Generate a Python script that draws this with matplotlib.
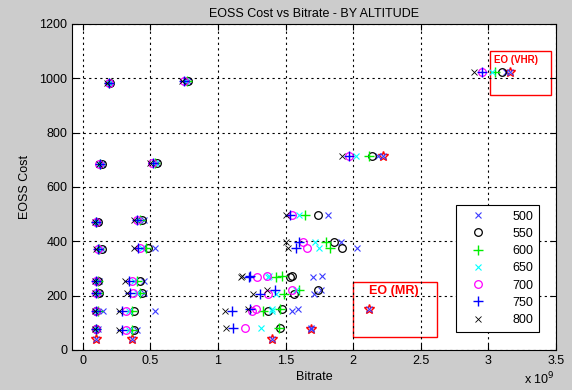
import matplotlib.pyplot as plt
from matplotlib.patches import Rectangle

plt.rcParams['font.family'] = ['Liberation Sans', 'DejaVu Sans']

altitudes = ['500', '550', '600', '650', '700', '750', '800']

# стоимость каждой конфигурации
cost = [983, 990, 685, 690, 472, 477, 372, 375, 255, 255, 210, 210, 145, 145, 78, 75,
        495, 398, 376, 268, 272, 205, 222, 142, 150, 80, 715, 1022]

# битрейт (x 10^9) для каждой высоты, по порядку конфигураций
bitrate = {
    '500': [0.20, 0.78, 0.14, 0.55, 0.11, 0.45, 0.14, 0.53, 0.12, 0.45, 0.12, 0.45, 0.15, 0.53, 0.11, 0.40,
            1.81, 1.91, 2.03, 1.70, 1.77, 1.71, 1.76, 1.55, 1.59, 1.69, 2.18, 3.13],
    '550': [0.20, 0.78, 0.14, 0.55, 0.11, 0.44, 0.14, 0.48, 0.11, 0.42, 0.12, 0.44, 0.10, 0.38, 0.10, 0.38,
            1.74, 1.86, 1.92, 1.53, 1.55, 1.56, 1.74, 1.37, 1.47, 1.46, 2.14, 3.10],
    '600': [0.19, 0.77, 0.13, 0.53, 0.10, 0.42, 0.12, 0.47, 0.11, 0.40, 0.11, 0.42, 0.11, 0.36, 0.10, 0.36,
            1.64, 1.80, 1.83, 1.43, 1.47, 1.49, 1.60, 1.33, 1.46, 1.45, 2.12, 3.05],
    '650': [0.19, 0.76, 0.13, 0.53, 0.10, 0.41, 0.12, 0.44, 0.10, 0.38, 0.10, 0.40, 0.10, 0.34, 0.10, 0.34,
            1.60, 1.72, 1.75, 1.37, 1.38, 1.43, 1.58, 1.40, 1.40, 1.32, 2.02, 3.03],
    '700': [0.19, 0.75, 0.12, 0.51, 0.10, 0.40, 0.11, 0.42, 0.10, 0.36, 0.10, 0.37, 0.10, 0.32, 0.10, 0.32,
            1.55, 1.63, 1.66, 1.29, 1.36, 1.37, 1.55, 1.25, 1.28, 1.20, 1.97, 2.95],
    '750': [0.19, 0.75, 0.13, 0.52, 0.10, 0.40, 0.11, 0.41, 0.10, 0.34, 0.10, 0.35, 0.10, 0.29, 0.10, 0.29,
            1.53, 1.60, 1.58, 1.23, 1.24, 1.31, 1.42, 1.10, 1.24, 1.11, 1.97, 2.95],
    '800': [0.18, 0.73, 0.12, 0.50, 0.09, 0.38, 0.10, 0.38, 0.09, 0.31, 0.09, 0.33, 0.09, 0.27, 0.09, 0.27,
            1.50, 1.50, 1.52, 1.17, 1.18, 1.26, 1.36, 1.05, 1.22, 1.06, 1.92, 2.89],
}

# точки EO (красные звезды)
eo_bitrate = [0.10, 0.36, 1.40, 1.69, 2.12, 2.22, 3.16]
eo_cost = [40, 40, 42, 78, 152, 715, 1022]

styles = {
    '500': dict(marker='x', color='#3a3aff', ms=4, mew=0.8),
    '550': dict(marker='o', color='black', ms=5.5, mew=0.9, mfc='none'),
    '600': dict(marker='+', color='#00ee00', ms=6.5, mew=1.0),
    '650': dict(marker='x', color='#00ffff', ms=4, mew=0.8),
    '700': dict(marker='o', color='#ff00ff', ms=5.5, mew=0.9, mfc='none'),
    '750': dict(marker='+', color='#0000ff', ms=6.5, mew=1.0),
    '800': dict(marker='x', color='black', ms=4, mew=0.6),
}

fig = plt.figure(figsize=(5.72, 3.9), dpi=100, facecolor='#cccccc')
ax = fig.add_axes([0.126, 0.1026, 0.846, 0.836])

ax.plot(eo_bitrate, eo_cost, linestyle='none', marker='*', ms=7, color='red', mfc='none', mew=1.0)
ax.plot(eo_bitrate, eo_cost, linestyle='none', **styles['500'])

for alt in altitudes:
    ax.plot(bitrate[alt], cost, linestyle='none', label=alt, **styles[alt])

ax.set_xlim(-0.08, 3.5)
ax.set_ylim(0, 1200)
ax.set_xticks([0, 0.5, 1, 1.5, 2, 2.5, 3, 3.5])
ax.set_xticklabels(['0', '0.5', '1', '1.5', '2', '2.5', '3', '3.5'])
ax.set_yticks(range(0, 1201, 200))
ax.grid(True, color='black', linestyle=(0, (2, 3)), linewidth=0.8)
ax.tick_params(direction='in', top=True, right=True, labelsize=9, length=4)
for s in ax.spines.values():
    s.set_linewidth(0.8)

ax.set_title('EOSS Cost vs Bitrate - BY ALTITUDE', fontsize=9, pad=5)
ax.set_xlabel('Bitrate', fontsize=9, labelpad=3)
ax.set_ylabel('EOSS Cost', fontsize=9, labelpad=6)
fig.text(0.916, 0.015, r'x 10$^{9}$', fontsize=9)

# рамки EO
ax.add_patch(Rectangle((3.01, 940), 0.45, 160, fill=False, edgecolor='red', lw=1.0, clip_on=False))
ax.text(3.04, 1085, 'EO (VHR)', color='red', fontsize=7, fontweight='bold', va='top')
ax.add_patch(Rectangle((2.0, 48), 0.62, 204, fill=False, edgecolor='red', lw=1.0, clip_on=False))
ax.text(2.12, 238, 'EO (MR)', color='red', fontsize=9, fontweight='bold', va='top')

leg = ax.legend(loc='upper left', bbox_to_anchor=(0.793, 0.445), borderaxespad=0, fontsize=9,
                frameon=True, fancybox=False, edgecolor='black', framealpha=1, handlelength=2.6,
                handletextpad=1.5, labelspacing=0.42, borderpad=0.45)
leg.get_frame().set_linewidth(0.8)

fig.savefig('out.png', dpi=100, facecolor=fig.get_facecolor())
